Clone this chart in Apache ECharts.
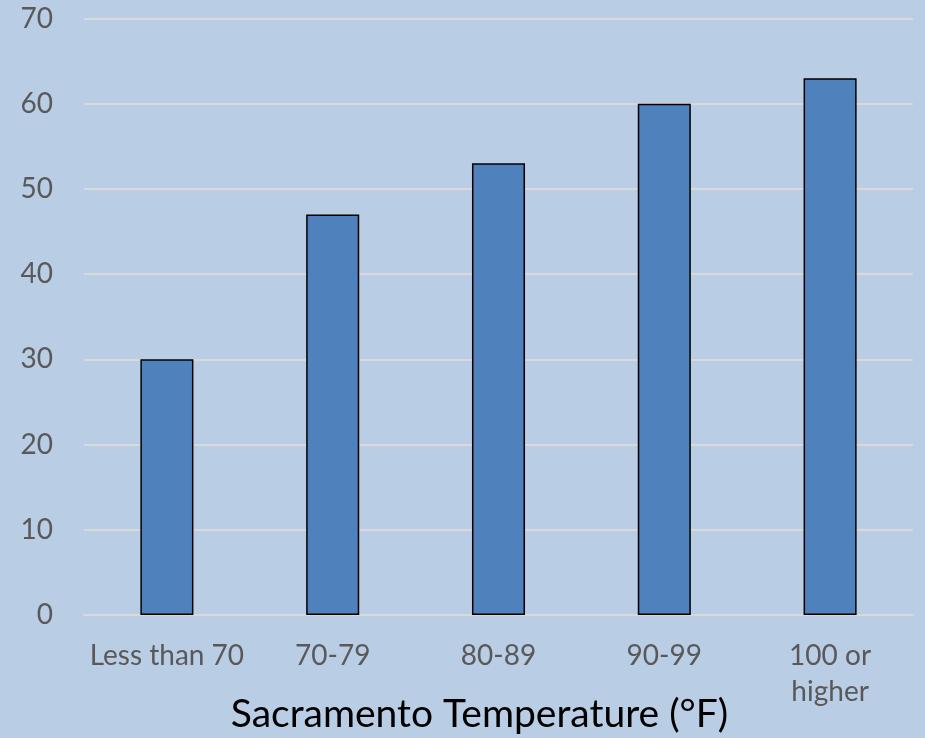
<!DOCTYPE html>
<html>
<head>
<meta charset="utf-8">
<script src="https://cdn.jsdelivr.net/npm/echarts@6/dist/echarts.min.js"></script>
<style>
html,body{margin:0;padding:0;background:#B9CDE5;}
#chart{width:925px;height:738px;}
</style>
</head>
<body>
<div id="chart"></div>
<script>
const categories = ["Less than 70", "70-79", "80-89", "90-99", "100 or\nhigher"];
const values = [30, 47, 53, 60, 63];
const yTicks = [0, 10, 20, 30, 40, 50, 60, 70];
const xTitle = "Sacramento Temperature (°F)";

const chart = echarts.init(document.getElementById('chart'), null, {renderer: 'canvas'});
chart.setOption({
  backgroundColor: '#B9CDE5',
  animation: false,
  grid: {left: 84, right: 12, top: 18.5, bottom: 123, containLabel: false, outerBoundsMode: 'none'},
  xAxis: {
    type: 'category',
    data: categories,
    name: xTitle,
    nameLocation: 'middle',
    nameGap: 80,
    nameMoveOverlap: false,
    nameTextStyle: {fontFamily: 'Lato', fontSize: 39, color: '#000000', padding: [0, 38, 0, 0]},
    axisLine: {show: true, lineStyle: {color: '#D9D9D9', width: 2}},
    axisTick: {show: false},
    axisLabel: {fontFamily: 'Lato', fontSize: 28, color: '#595959', margin: 23, lineHeight: 36, interval: 0}
  },
  yAxis: {
    type: 'value',
    min: yTicks[0],
    max: yTicks[yTicks.length - 1],
    interval: 10,
    axisLine: {show: false},
    axisTick: {show: false},
    splitLine: {lineStyle: {color: '#D9D9D9', width: 2}},
    axisLabel: {fontFamily: 'Lato', fontSize: 28, color: '#595959', margin: 31}
  },
  series: [{
    type: 'bar',
    data: values,
    barWidth: '32%',
    itemStyle: {color: '#4F81BD', borderColor: '#000000', borderWidth: 1.5}
  }]
});
</script>
</body>
</html>
